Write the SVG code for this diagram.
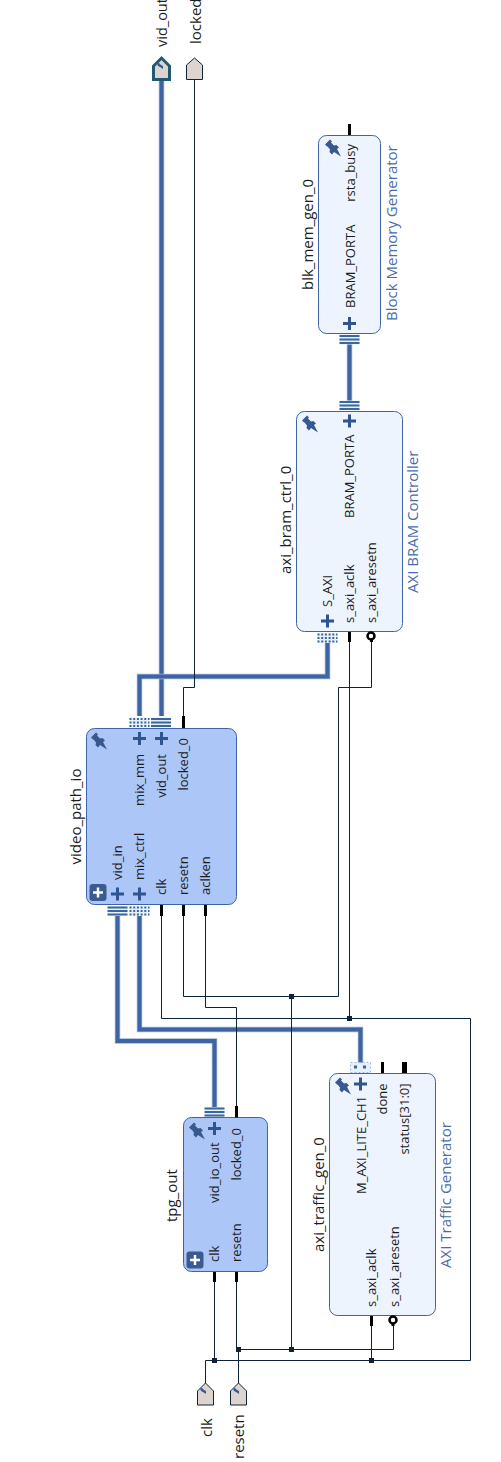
<svg xmlns="http://www.w3.org/2000/svg" width="501" height="1462" viewBox="0 0 501 1462">
<style>
text{font-family:"Open Sans","Noto Sans","Liberation Sans",sans-serif;fill:#1c1c1c}
.n{font-size:15px}.p{font-size:13px}.t{font-size:15px;fill:#4a6cad}
.a{text-anchor:end}
.b1{fill:#abc6f7;stroke:#3f64a3;stroke-width:1}
.b2{fill:#edf4fe;stroke:#3f64a3;stroke-width:1}
.w{fill:none;stroke:#0f2338;stroke-width:1}
.bh{fill:none;stroke:#a3b6d8;stroke-width:5.5}
.bc{fill:none;stroke:#3f64a3;stroke-width:4}
.j{fill:#0f2338}
.s{stroke:#000;stroke-width:3;fill:none}
.ext{fill:#ddd3cf;stroke:#0f2338;stroke-width:1}
.plus{stroke:#2f5590;stroke-width:3;fill:none}
.pin{fill:#37598f}
.bg{fill:#e8f0fb}
.bar{fill:#3a689c}
</style>
<defs>
<g id="pin"><path class="pin" d="M-8-3.500L-3-8.500L-1-6.500L-2-5.500L1-2.500L3.500-3L6-0.500L4 1L8 8.500L1 4L-1 6.500L-3.500 4L-3 1.500L-5.500-1.500L-6-1.500Z"/></g>
<g id="plus"><path class="plus" d="M-6.500 0H6.500M0-6.500V6.500"/></g>
<g id="bus"><rect class="bg" x="-10" y="0" width="20" height="10"/><rect class="bar" x="-10" y="0.500" width="20" height="2"/><rect class="bar" x="-10" y="4" width="20" height="2"/><rect class="bar" x="-10" y="7.500" width="20" height="2"/></g>
<g id="dot"><rect class="bg" x="-10" y="0" width="20" height="10"/><path d="M-10 1.500H10M-10 5H10M-10 8.500H10" stroke="#3a689c" stroke-width="2" stroke-dasharray="2 1.700" fill="none"/></g>
<g id="exp"><rect x="-8.500" y="-8.500" width="17" height="17" rx="3" fill="#3a5a94"/><path d="M-5 0H5M0-5V5" stroke="#fff" stroke-width="2.500"/></g>
<g id="mini"><path class="pin" d="M-3-2.500L-1-3L1-1L3 0L3 3L0 1L-2 0Z"/></g>
</defs>

<g id="connectors">
<path class="bh" d="M161.500 80V716"/><path class="bc" d="M161.500 80V716"/>
<path class="bh" d="M139.500 716V676.500H327.500V643"/><path class="bc" d="M139.500 716V676.500H327.500V643"/>
<path class="bh" d="M349.500 344V401"/><path class="bc" d="M349.500 344V401"/>
<path class="bh" d="M117.500 916V1041H214.500V1107"/><path class="bc" d="M117.500 916V1041H214.500V1107"/>
<path class="bh" d="M139.500 916V1029.500H360.500V1063"/><path class="bc" d="M139.500 916V1029.500H360.500V1063"/>
<path class="w" d="M194.500 80V687.500H183.500V716"/>
<path class="w" d="M349.500 642V1018.500"/>
<path class="w" d="M371.500 640V687.500H338.500V996.500H183.500V916"/>
<path class="w" d="M291.500 996.500V1349.500"/>
<path class="w" d="M205.500 916V1007.500H236.500V1107"/>
<path class="w" d="M161.500 916V1018.500H470.500V1360.500H205.500V1383"/>
<path class="w" d="M214.500 1282V1360.500"/>
<path class="w" d="M371.500 1326V1360.500"/>
<path class="w" d="M236.500 1282V1349.500"/>
<path class="w" d="M238.500 1383V1349.500H393.500V1325"/>
<rect class="j" x="289" y="994" width="5" height="5"/>
<rect class="j" x="347" y="1016" width="5" height="5"/>
<rect class="j" x="212" y="1358" width="5" height="5"/>
<rect class="j" x="369" y="1358" width="5" height="5"/>
<rect class="j" x="289" y="1347" width="5" height="5"/>
<rect class="j" x="236" y="1347" width="5" height="5"/>
</g>

<g id="port_vid_out">
<path class="ext" style="stroke:#1f5a6e;stroke-width:3" d="M153.500 79.500V66L161.500 58L169.500 66V79.500Z"/>
<use href="#mini" x="160" y="66"/>
<text class="n" style="font-size:14.500px" transform="translate(167,47) rotate(-90)">vid_out</text>
</g>
<g id="port_locked">
<path class="ext" d="M186.500 79.500V65L194.500 58L202.500 65V79.500Z"/>
<text class="n" transform="translate(200.500,44) rotate(-90)">locked</text>
</g>
<g id="port_clk">
<path class="ext" d="M197.500 1405V1391L205.500 1383L213.500 1391V1405Z"/>
<use href="#mini" x="203" y="1391"/>
<text class="n" transform="translate(211.500,1437) rotate(-90)">clk</text>
</g>
<g id="port_resetn">
<path class="ext" d="M230.500 1405V1391L238.500 1383L246.500 1391V1405Z"/>
<use href="#mini" x="236" y="1391"/>
<text class="n" transform="translate(244,1459) rotate(-90)">resetn</text>
</g>

<g id="video_path_io">
<rect class="b1" x="86.500" y="728.500" width="150" height="176" rx="8"/>
<use href="#pin" x="99" y="741"/>
<use href="#plus" x="139.500" y="738.500"/><use href="#plus" x="161.500" y="738.500"/>
<use href="#plus" x="117.500" y="894"/><use href="#plus" x="139.500" y="894"/>
<use href="#exp" x="98" y="892.500"/>
<use href="#dot" x="139.500" y="717.500"/><use href="#bus" x="161" y="717.500"/>
<use href="#bus" x="117.500" y="906"/><use href="#dot" x="139.500" y="906"/>
<path class="s" d="M183.500 716V728M161.500 905V916M183.500 905V916M205.500 905V916"/>
<text class="n" transform="translate(80.500,864.500) rotate(-90)">video_path_io</text>
<text class="p a" transform="translate(144,754) rotate(-90)">mix_mm</text>
<text class="p a" transform="translate(166,754) rotate(-90)">vid_out</text>
<text class="p a" transform="translate(188,738) rotate(-90)">locked_0</text>
<text class="p" transform="translate(122,880) rotate(-90)">vid_in</text>
<text class="p" transform="translate(144,880) rotate(-90)">mix_ctrl</text>
<text class="p" transform="translate(166,895) rotate(-90)">clk</text>
<text class="p" transform="translate(188,895) rotate(-90)">resetn</text>
<text class="p" transform="translate(210,895) rotate(-90)">aclken</text>
</g>

<g id="blk_mem_gen_0">
<rect class="b2" x="318.500" y="135.500" width="62" height="198" rx="8"/>
<use href="#pin" x="333" y="148"/>
<use href="#plus" x="349.500" y="323.500"/>
<use href="#bus" x="349.500" y="334.500"/>
<path class="s" d="M349.500 124V135"/>
<text class="n" transform="translate(312.500,290) rotate(-90)">blk_mem_gen_0</text>
<text class="t" transform="translate(396.500,321) rotate(-90)">Block Memory Generator</text>
<text class="p a" transform="translate(355,144) rotate(-90)">rsta_busy</text>
<text class="p" transform="translate(355,308) rotate(-90)">BRAM_PORTA</text>
</g>

<g id="axi_bram_ctrl_0">
<rect class="b2" x="296.500" y="411.500" width="106" height="220" rx="8"/>
<use href="#pin" x="310" y="424"/>
<use href="#plus" x="349.500" y="421"/><use href="#plus" x="327.500" y="621"/>
<use href="#bus" x="349.500" y="400.500"/>
<use href="#dot" x="327.500" y="633"/>
<path class="s" d="M349.500 632V642M371.500 639V642"/>
<circle cx="371" cy="636" r="3.500" fill="#fff" stroke="#000" stroke-width="2.500"/>
<text class="n" transform="translate(290.500,574) rotate(-90)">axi_bram_ctrl_0</text>
<text class="t" transform="translate(417.500,593) rotate(-90)">AXI BRAM Controller</text>
<text class="p" transform="translate(354,518) rotate(-90)">BRAM_PORTA</text>
<text class="p" transform="translate(332,607) rotate(-90)">S_AXI</text>
<text class="p" transform="translate(354,623) rotate(-90)">s_axi_aclk</text>
<text class="p" transform="translate(376,623) rotate(-90)">s_axi_aresetn</text>
</g>

<g id="tpg_out">
<rect class="b1" x="183.500" y="1117.500" width="84" height="154" rx="8"/>
<use href="#pin" x="197" y="1131"/>
<use href="#plus" x="214.500" y="1128.500"/>
<use href="#bus" x="214.500" y="1107"/>
<use href="#exp" x="195" y="1260"/>
<path class="s" d="M236.500 1106V1117.500M214.500 1272V1282M236.500 1272V1282"/>
<text class="n" transform="translate(177,1222) rotate(-90)">tpg_out</text>
<text class="p" transform="translate(219,1203) rotate(-90)">vid_io_out</text>
<text class="p a" transform="translate(241,1128) rotate(-90)">locked_0</text>
<text class="p" transform="translate(219,1262) rotate(-90)">clk</text>
<text class="p" transform="translate(241,1262) rotate(-90)">resetn</text>
</g>

<g id="axi_traffic_gen_0">
<rect class="b2" x="329.500" y="1073.500" width="106" height="242" rx="8"/>
<use href="#pin" x="343" y="1086"/>
<use href="#plus" x="360.500" y="1084"/>
<rect x="350.500" y="1062.500" width="20" height="10" fill="#e8f0fb" stroke="#a3b6d8" stroke-dasharray="2 2"/>
<rect x="354" y="1065.500" width="3" height="3" fill="#3a689c"/><rect x="363" y="1065.500" width="3" height="3" fill="#3a689c"/>
<path class="s" d="M382.500 1062V1073M371.500 1316V1326M393 1323V1326"/>
<path class="s" style="stroke-width:5" d="M404.500 1062V1073"/>
<circle cx="393" cy="1320" r="3.500" fill="#fff" stroke="#000" stroke-width="2.500"/>
<text class="n" transform="translate(323.500,1252) rotate(-90)">axi_traffic_gen_0</text>
<text class="t" transform="translate(451,1268) rotate(-90)">AXI Traffic Generator</text>
<text class="p" transform="translate(365.500,1194) rotate(-90)">M_AXI_LITE_CH1</text>
<text class="p a" transform="translate(387,1083.500) rotate(-90)">done</text>
<text class="p a" transform="translate(409,1083.500) rotate(-90)">status[31:0]</text>
<text class="p" transform="translate(376,1307) rotate(-90)">s_axi_aclk</text>
<text class="p" transform="translate(398.500,1307) rotate(-90)">s_axi_aresetn</text>
</g>
</svg>
